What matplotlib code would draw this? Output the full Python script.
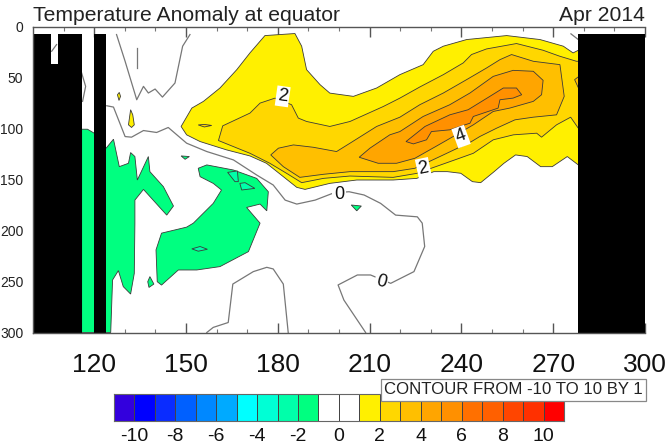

import matplotlib

matplotlib.use("Agg")
import matplotlib.pyplot as plt
from matplotlib.colors import BoundaryNorm, ListedColormap
from matplotlib.patches import Rectangle

plt.rcParams["font.family"] = ["Liberation Sans", "DejaVu Sans"]
plt.rcParams["axes.unicode_minus"] = False

# --- colour scale ---------------------------------------------------------
LEVELS = list(range(-11, 12))
COLORS = [
    "#3300dd", "#0000ff", "#0a2cff", "#0060ff", "#0088ff", "#00aaff", "#00ffff",
    "#00ffd5", "#00ffaa", "#00ff80", "#ffffff", "#ffffff", "#fff000", "#ffd700",
    "#ffbf00", "#ffa500", "#ff9000", "#ff7000", "#ff6000", "#ff4500", "#ff3000",
    "#ff0000",
]
CBAR_TICKS = [-10, -8, -6, -4, -2, 0, 2, 4, 6, 8, 10]
X_MAJOR = [120, 150, 180, 210, 240, 270, 300]
X_MINOR = [110, 130, 140, 160, 170, 190, 200, 220, 230, 250, 260, 280, 290]
Y_TICKS = [0, 50, 100, 150, 200, 250, 300]

# --- land mask: (lon start, lon end, top depth) ---------------------------
LAND = [
    (100, 105.9, 7),
    (105.9, 108.3, 37),
    (108.3, 115.9, 7),
    (120.0, 123.9, 7),
    (278.2, 300, 7),
]

# --- positive isotherms as (lon, depth) -----------------------------------
T1 = [
    (148.4, 98), (151.9, 80), (155.7, 73.4), (161.1, 60.3), (166.6, 42.3),
    (170.9, 25.9), (175.8, 8.9), (185.6, 6.9), (187.8, 19.3), (189.4, 42.3),
    (193.8, 57), (197, 65.3), (204.7, 68.5), (212.3, 60.3), (219.9, 47.2),
    (227.5, 37.4), (230.8, 24.3), (234.1, 19.3), (241.7, 12.8), (254.8, 8.9),
    (265.7, 12.8), (273.3, 19.3), (276.5, 25.9), (278.2, 23.3), (279, 23),
    (279, 136), (278.2, 135.7), (274.6, 127.5), (269.7, 137.4), (265.9, 137.4),
    (261.5, 127.5), (257.7, 125.9), (253.9, 134.1), (250.7, 142.3), (246.3, 153.1),
    (243.6, 152.1), (239.8, 143.9), (235.4, 142.3), (231, 142.3), (225.4, 148.9),
    (217.7, 150.5), (205.8, 150.5), (197, 153.8), (188.9, 159.7), (186.2, 157.7),
    (181.8, 147.2), (176.3, 134.1), (170.9, 126.9), (163.3, 121), (154.6, 112.8),
    (150.2, 106.2),
]
T1_SPOT_A = [(127.6, 66.9), (128.2, 64.6), (128.6, 68.5), (128.1, 72.5)]
T1_SPOT_B = [(131.2, 96.4), (131.9, 81.6), (132.6, 86.6), (133.1, 96.4), (132.2, 99)]
T2 = [
    (160.6, 111.8), (162, 97.4), (170.9, 84.9), (174.2, 75.1), (179.1, 70.2),
    (184.5, 76.7), (186.7, 89.8), (189.4, 93.1), (197, 98), (203.6, 93.1),
    (214.5, 78.4), (219.9, 70.2), (226.4, 59.3), (234.1, 47.2), (240.6, 35.7),
    (243.3, 27.5), (248.2, 22), (258, 16.7), (266.7, 23.3), (272, 29), (277.6, 34.1),
    (279, 34), (279, 100), (278.2, 99.7), (275.7, 88.9), (271.1, 96.4), (266.2, 108.5),
    (264.6, 104.6), (257, 106.2), (250.4, 111.1), (243.9, 124.3), (238.4, 130.2),
    (232, 137), (225.4, 144), (217.7, 147.9), (203.6, 146.6), (194.9, 148.9),
    (187.8, 153.1), (182.9, 144), (177.4, 134.1), (170.9, 124.3),
]
T2_SPOT = [(154, 96.5), (156, 96), (158.4, 97), (156, 98.5)]
T3 = [
    (177.7, 125.9), (180.2, 119.3), (185.1, 116.1), (191.6, 118.4), (199.2, 122.6),
    (203.6, 114.4), (212.3, 98), (219.9, 88.9), (226.4, 76.7), (234.1, 65.2),
    (241.7, 52.1), (248.2, 40.7), (252.6, 32.5), (256.4, 27.5), (263.5, 34.1),
    (272.2, 37.4), (273.6, 68.5), (271.1, 86.6), (263.5, 88.9), (257.5, 91.5),
    (251.5, 99.7), (246, 107.9), (243.3, 112.8), (234.1, 125.9), (224.8, 139),
    (217.7, 142.3), (203.6, 142.3), (194.9, 144.9), (187.2, 147.9), (181.8, 137.4),
]
T3_SPOT = [(278.4, 48.9), (277, 52.1), (278.4, 61.3)]
T4 = [
    (206.6, 128.2), (210.1, 119.3), (216.6, 106.2), (219.9, 103), (227.5, 88.2),
    (236.2, 76.7), (242.8, 65.2), (250.4, 48.9), (256.9, 43), (263.5, 43.9),
    (266.7, 52.8), (266.2, 66.9), (263.5, 73.4), (255.8, 80), (250.4, 83.3),
    (243.9, 96.4), (237.3, 107.9), (232, 117), (224.8, 129.2), (218.8, 134.1),
    (212.8, 134.1),
]
T5 = [
    (221.9, 112.8), (228.1, 98), (236.2, 86.6), (242.2, 81.6), (249.3, 68.5),
    (253.7, 60.3), (258, 60.3), (259.7, 66.9), (256.9, 70.2), (252.6, 71.8),
    (252, 80), (243.9, 88.2), (242.8, 94.8), (236.2, 101.3), (230.2, 103),
    (228.6, 111.1), (224.3, 115.1),
]

# --- negative isotherms ---------------------------------------------------
M1_WEST = [
    (115.9, 100.7), (117.8, 100.7), (120, 104.6), (123.9, 119.3), (126.3, 110.5),
    (128.2, 137.4), (131.2, 134.1), (131.9, 123.6), (133.3, 127.5), (134.1, 150.5),
    (137.7, 127.5), (138.2, 142.3), (142.6, 157), (145.9, 176), (143.7, 184.9),
    (136.1, 159.7), (133.3, 170.2), (133.3, 192.8), (133.1, 242), (131.9, 262.3),
    (129.5, 255), (127.9, 239.3), (126, 248.5), (125.4, 300), (115.9, 300),
]
M1_CENTRE = [
    (154, 139), (156.8, 135.7), (165.5, 140.7), (173.1, 148.9), (176.9, 162),
    (176.4, 180.7), (174.2, 174.1), (169.8, 177.4), (174.2, 192.8), (170.4, 220.7),
    (161.1, 235.4), (153.5, 238.7), (147.5, 238.7), (142, 253.5), (140.6, 250.2),
    (140.2, 219), (142, 202.6), (150.2, 196.7), (152.4, 192.8), (158.9, 173.4),
    (161.6, 160.3), (158.9, 153.8), (154.6, 147.2),
]
M1_SPOT_A = [(148.4, 126.9), (151.1, 127.5), (149.7, 130.2)]
M1_SPOT_B = [(138.2, 245.2), (139.5, 252.5), (137.9, 255.8), (137.5, 250.2)]
M1_SPOT_C = [(204, 175), (207.3, 176), (205.8, 180.7)]
M2_SPOT_A = [(163.6, 143), (166.8, 141.6), (167.1, 152.1), (166, 152.1)]
M2_SPOT_B = [(167.6, 153.8), (169.3, 153.1), (172.5, 158.7), (168.2, 160.3)]
M2_SPOT_C = [(151.9, 218), (154.6, 215.7), (157, 218.4), (154, 220.3)]

# --- zero line pieces -----------------------------------------------------
ZERO_MAIN = [
    (124.1, 77.7), (126.3, 79), (130.1, 107.9), (132.2, 108.5), (136.1, 102),
    (140.4, 103.9), (144.2, 99), (150.2, 114.4), (156.8, 122.6), (165.5, 130.8),
    (173.1, 145.6), (178.5, 155.4), (182.4, 170.2), (186.2, 174.1), (192.2, 170.2),
    (198.4, 163), (203.3, 162), (208.2, 165.2), (213.6, 173.4), (218.5, 184.9),
    (225.6, 186.6), (227.2, 192.8), (228, 215.7), (224.5, 240.3), (216.9, 251.8),
    (210.3, 243.6), (206, 243.6), (199.7, 253.4), (201.6, 268.2), (208.7, 300),
]
ZERO_NORTH = [
    (127.3, 7.9), (130.1, 34.1), (133.9, 71.8), (136.1, 58.7), (137.7, 65.2),
    (139.9, 61.3), (142.3, 69.2), (146.4, 55.4), (148.9, 19.3), (151.3, 7.9),
]
ZERO_DASH = [(134, 21), (134, 40.7)]
ZERO_WEST = [(115.9, 45.6), (117.2, 58.7), (116.2, 73.4)]
ZERO_NOTCH = [(106.1, 24.3), (107.7, 17.7)]
ZERO_SOUTH = [
    (156.8, 300), (158.9, 295), (163.8, 290.2), (165.3, 252.5), (172, 240.3),
    (176.4, 236.1), (178.5, 237.7), (181.8, 252.5), (183.4, 300),
]
ZERO_EAST = [(275.8, 7.2), (278.2, 12.8)]

# --- contour labels: (text, lon, depth, rotation) --------------------------
LABELS = [
    ("2", 181.6, 68.5, -8),
    ("4", 239.9, 107.9, 20),
    ("2", 227.6, 139, 12),
    ("0", 200, 165, 0),
    ("0", 213.8, 250.2, -15),
]

cmap = ListedColormap(COLORS)
norm = BoundaryNorm(LEVELS, cmap.N)


def fill_outline(ax, pts, level, zorder):
    lon, dep = zip(*pts)
    ax.fill(lon, dep, facecolor=cmap(norm(level + 0.5)), edgecolor="#3a3a3a", lw=0.6,
            zorder=zorder)


def zero_line(ax, pts):
    lon, dep = zip(*pts)
    ax.plot(lon, dep, color="#777777", lw=0.9, zorder=6)


fig = plt.figure(figsize=(6.68, 4.46), dpi=100)
ax = fig.add_axes([33 / 668, 1 - 332.5 / 446, 612 / 668, 306 / 446])

fill_outline(ax, T1, 1, 2)
fill_outline(ax, T1_SPOT_A, 1, 2)
fill_outline(ax, T1_SPOT_B, 1, 2)
fill_outline(ax, T2, 2, 3)
fill_outline(ax, T2_SPOT, 2, 3)
fill_outline(ax, T3, 3, 4)
fill_outline(ax, T3_SPOT, 3, 4)
fill_outline(ax, T4, 4, 5)
fill_outline(ax, T5, 5, 5.5)

for pts in [M1_WEST, M1_CENTRE, M1_SPOT_A, M1_SPOT_B, M1_SPOT_C]:
    fill_outline(ax, pts, -2, 2)
for pts in [M2_SPOT_A, M2_SPOT_B, M2_SPOT_C]:
    fill_outline(ax, pts, -3, 3)

for pts in [ZERO_MAIN, ZERO_NORTH, ZERO_DASH, ZERO_WEST, ZERO_NOTCH, ZERO_SOUTH, ZERO_EAST]:
    zero_line(ax, pts)

for start, end, top in LAND:
    ax.bar(start, 300 - top, width=end - start, bottom=top, align="edge", color="black",
           lw=0, zorder=8)

for text, lon, dep, rot in LABELS:
    ax.text(lon, dep, text, fontsize=13, rotation=rot, ha="center", va="center", zorder=9,
            color="#111111",
            bbox=dict(facecolor="white", edgecolor="none", pad=1.2))

ax.set_xlim(100, 300)
ax.set_ylim(300, 0)
ax.set_xticks(X_MAJOR)
ax.set_xticks(X_MINOR, minor=True)
ax.set_yticks(Y_TICKS)
ax.tick_params(axis="x", which="major", direction="in", top=True, bottom=True, length=7,
               width=1, color="#555555", labelsize=19, pad=15, labelcolor="#111111")
ax.tick_params(axis="x", which="minor", direction="in", top=True, bottom=True, length=3,
               width=0.8, color="#777777")
ax.tick_params(axis="y", length=0, labelsize=10, pad=7, labelcolor="#222222")
for side in ax.spines:
    ax.spines[side].set_color("#555555")
    ax.spines[side].set_linewidth(1.0)
    ax.spines[side].set_zorder(10)
ax.spines["right"].set_visible(False)

ax.set_title("Temperature Anomaly at equator", loc="left", fontsize=15.2, pad=4,
             color="#222222")
ax.set_title("Apr 2014", loc="right", fontsize=15.2, pad=4, color="#222222")

# --- colour bar -----------------------------------------------------------
cax = fig.add_axes([113.7 / 668, 1 - 421 / 446, 450.5 / 668, 27.5 / 446])
mids = [[(a + b) / 2 for a, b in zip(LEVELS[:-1], LEVELS[1:])]]
cax.pcolormesh(LEVELS, [0, 1], mids, cmap=cmap, norm=norm, edgecolors="#444444", lw=0.6)
cax.set_xlim(LEVELS[0], LEVELS[-1])
cax.set_yticks([])
cax.set_xticks(CBAR_TICKS)
cax.tick_params(axis="x", length=0, labelsize=14, pad=5, labelcolor="#111111")
for side in cax.spines:
    cax.spines[side].set_color("#666666")
    cax.spines[side].set_linewidth(0.8)

# --- contour note box -----------------------------------------------------
fig.add_artist(Rectangle((381 / 668, 1 - 400.7 / 446), 264.5 / 668, 22 / 446,
                         transform=fig.transFigure, facecolor="white",
                         edgecolor="#888888", lw=0.9, zorder=5))
fig.text(513 / 668, 1 - 390 / 446, "CONTOUR FROM -10 TO 10 BY 1", fontsize=12.1,
         ha="center", va="center", color="#222222", zorder=6)

fig.savefig("out.png", dpi=100)
